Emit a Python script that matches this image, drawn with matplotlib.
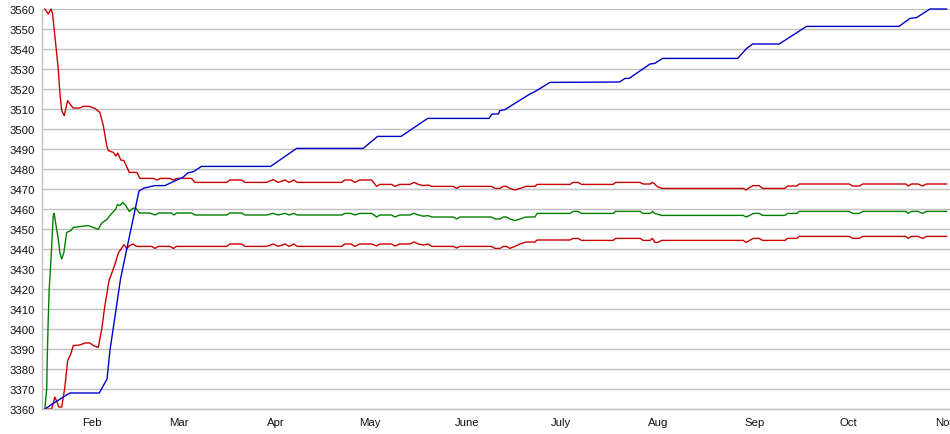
import matplotlib.pyplot as plt

plt.rcParams['font.family'] = ['Liberation Sans', 'DejaVu Sans']

# x values are day of year (Jan 1 = 1)
MONTH_DAYS = [32, 60, 91, 121, 152, 182, 213, 244, 274, 305]
MONTH_LABELS = ["Feb", "Mar", "Apr", "May", "June", "July", "Aug", "Sep", "Oct", "Nov"]

blue_days = [17.0, 20.2, 25.0, 34.4, 36.9, 37.8, 41.2, 47.1, 48.8, 52.2, 55.4, 58.1, 61.3,
             62.7, 64.5, 67.1, 89.2, 97.5, 118.8, 123.4, 130.9, 139.4, 159.0, 160.0, 162.0,
             162.5, 164.1, 172.1, 173.7, 178.5, 200.7, 202.5, 203.8, 210.5, 212.0, 214.5,
             238.5, 241.4, 243.3, 251.8, 260.5, 290.1, 293.6, 295.7, 300.0, 305.3]
blue_vals = [3360, 3363.3, 3368, 3368, 3375, 3389, 3425, 3469, 3470.5, 3471.7, 3471.7, 3473.7,
             3476, 3478, 3478.7, 3481.3, 3481.3, 3490.3, 3490.3, 3496.3, 3496.3, 3505.3, 3505.3,
             3507.5, 3507.5, 3509.2, 3509.7, 3517.5, 3518.7, 3523.3, 3523.5, 3525.3, 3525.3,
             3532.5, 3532.8, 3535.3, 3535.3, 3540.3, 3542.5, 3542.5, 3551.3, 3551.3, 3555.3,
             3555.7, 3560, 3560]

upper_days = [17.0, 18.1, 19.0, 19.5, 20.2, 21.3, 21.8, 22.4, 23.2, 24.3, 25.4, 26.1, 28.2,
              29.3, 31.2, 33.0, 34.6, 35.7, 36.8, 37.3, 38.9, 39.7, 40.3, 41.3, 42.3, 44.0,
              46.4, 47.4, 51.7, 52.8, 54.0, 57.0, 58.1, 59.1, 63.9, 65.0, 75.1, 76.2, 79.9,
              81.0, 87.9, 90.0, 91.6, 93.8, 95.1, 96.6, 97.7, 111.9, 112.9, 114.9, 116.1,
              117.7, 121.5, 123.1, 124.1, 127.9, 128.9, 130.5, 133.7, 135.1, 136.4, 138.0,
              139.6, 140.7, 147.6, 148.7, 149.7, 159.8, 160.9, 162.5, 163.6, 164.6, 165.7,
              167.3, 168.9, 170.8, 173.7, 174.4, 184.9, 185.9, 187.5, 188.6, 198.7, 199.5,
              207.3, 208.3, 210.5, 211.3, 212.0, 212.8, 214.2, 240.3, 241.2, 242.4, 243.5,
              245.4, 246.5, 253.6, 254.5, 257.4, 258.2, 274.2, 275.3, 277.4, 278.5, 292.3,
              293.0, 294.1, 296.2, 297.6, 298.9, 305.3]
upper_vals = [3560, 3557.5, 3560, 3557.5, 3546.7, 3530, 3518.3, 3509.2, 3506.7, 3514.2, 3511.7,
              3510.5, 3510.5, 3511.3, 3511.3, 3510.3, 3508.3, 3501.7, 3491.7, 3489.2, 3488.3,
              3486.5, 3488, 3484.5, 3484.2, 3478.3, 3478.3, 3475.3, 3475.3, 3474.5, 3475.3,
              3475.3, 3474.5, 3475.3, 3475.3, 3473.3, 3473.3, 3474.5, 3474.5, 3473.3, 3473.3,
              3474.7, 3473.3, 3474.5, 3473.3, 3474.5, 3473.3, 3473.3, 3474.5, 3474.5, 3473.3,
              3474.5, 3474.5, 3471.3, 3472.3, 3472.3, 3471.3, 3472.3, 3472.3, 3473.3, 3472.3,
              3471.7, 3472, 3471.3, 3471.3, 3470.3, 3471.3, 3471.3, 3470.3, 3470.3, 3471.3,
              3471.3, 3470.3, 3469.5, 3470.3, 3471.3, 3471.3, 3472.3, 3472.3, 3473.3, 3473.3,
              3472.3, 3472.3, 3473.3, 3473.3, 3472.5, 3472.5, 3473.3, 3472.5, 3471.2, 3470.3,
              3470.3, 3469.5, 3470.8, 3471.7, 3471.7, 3470.3, 3470.3, 3471.5, 3471.5, 3472.5,
              3472.5, 3471.5, 3471.5, 3472.5, 3472.5, 3471.5, 3472.5, 3472.5, 3471.5, 3472.5,
              3472.5]

green_days = [17.0, 17.6, 17.8, 18.1, 18.4, 18.8, 19.2, 19.7, 20.0, 20.5, 21.3, 21.8, 22.4,
              23.1, 24.0, 25.3, 26.1, 28.2, 30.9, 33.0, 34.1, 35.2, 36.8, 37.8, 38.7, 39.7,
              40.2, 41.0, 41.9, 42.9, 44.0, 45.1, 46.1, 47.2, 50.6, 52.2, 53.5, 57.5, 58.3,
              59.1, 63.9, 65.0, 75.1, 76.2, 79.9, 81.0, 87.9, 90.0, 91.6, 93.8, 95.1, 96.6,
              97.7, 111.9, 112.9, 114.9, 116.1, 117.7, 121.5, 123.1, 124.1, 127.9, 128.9,
              130.5, 133.7, 135.1, 136.4, 138.0, 139.6, 140.7, 147.6, 148.7, 149.7, 159.8,
              160.9, 162.5, 163.6, 164.6, 165.7, 167.3, 168.9, 170.8, 173.7, 174.4, 184.9,
              185.9, 187.5, 188.6, 198.7, 199.5, 207.3, 208.3, 210.5, 211.3, 212.0, 214.2,
              240.3, 241.2, 242.4, 243.5, 245.4, 246.5, 253.6, 254.5, 257.4, 258.2, 274.2,
              275.3, 277.4, 278.5, 292.3, 293.0, 294.1, 296.2, 297.6, 298.9, 305.3]
green_vals = [3360, 3370, 3387, 3405, 3420, 3430, 3441.7, 3456.7, 3457.8, 3452.5, 3445, 3438.3,
              3435, 3438.3, 3448.3, 3449.2, 3450.8, 3451.2, 3451.7, 3450.5, 3449.8, 3453,
              3454.7, 3456.7, 3458.3, 3460, 3462.2, 3461.7, 3463.3, 3461.7, 3458.8, 3460.3,
              3460.5, 3458, 3458, 3457, 3458, 3458, 3457, 3458, 3458, 3457, 3457, 3458, 3458,
              3457, 3457, 3457.8, 3457, 3457.8, 3457, 3457.8, 3457, 3457, 3457.8, 3457.8, 3457,
              3457.8, 3457.8, 3456, 3457, 3457, 3456, 3457, 3457, 3457.8, 3457, 3456.4, 3456.7,
              3456, 3456, 3455, 3456, 3456, 3455, 3455, 3456, 3456, 3455, 3454.2, 3455, 3456,
              3456, 3457.8, 3457.8, 3458.8, 3458.8, 3457.8, 3457.8, 3458.8, 3458.8, 3457.8,
              3457.8, 3458.8, 3457.8, 3456.8, 3456.8, 3456, 3456.8, 3457.8, 3457.8, 3456.8,
              3456.8, 3457.8, 3457.8, 3458.8, 3458.8, 3457.8, 3457.8, 3458.8, 3458.8, 3457.8,
              3458.8, 3458.8, 3457.8, 3458.8, 3458.8]

lower_days = [17.0, 19.2, 20.2, 21.0, 21.5, 22.4, 23.4, 24.3, 25.3, 26.1, 28.2, 29.8, 31.4,
              32.5, 34.1, 35.2, 36.2, 37.5, 39.4, 40.5, 41.6, 42.3, 43.2, 44.2, 45.1, 46.4,
              51.2, 52.2, 53.3, 57.0, 58.1, 59.1, 75.1, 76.2, 79.9, 81.0, 87.9, 90.0, 91.6,
              93.8, 95.1, 96.6, 97.7, 111.9, 112.9, 114.9, 116.1, 117.7, 121.5, 123.1, 124.1,
              127.9, 128.9, 130.5, 133.7, 135.1, 136.4, 138.0, 139.6, 140.7, 147.6, 148.7,
              149.7, 159.8, 160.9, 162.5, 163.6, 164.6, 165.7, 167.3, 168.9, 170.8, 173.7,
              174.4, 184.9, 185.9, 187.5, 188.6, 198.7, 199.5, 207.3, 208.3, 210.5, 211.3,
              212.0, 213.0, 214.2, 240.3, 241.2, 243.5, 245.4, 246.5, 253.6, 254.5, 257.4,
              258.2, 274.2, 275.3, 277.4, 278.5, 292.3, 293.0, 294.1, 296.2, 297.6, 298.9,
              305.3]
lower_vals = [3360, 3360, 3366, 3363, 3361, 3361, 3370.8, 3384.2, 3387.5, 3391.7, 3392, 3393,
              3393, 3391.7, 3390.8, 3400, 3411.7, 3424, 3432.2, 3438, 3440.5, 3442.2, 3440.2,
              3441.8, 3442.5, 3441.3, 3441.3, 3440.3, 3441.3, 3441.3, 3440.3, 3441.3, 3441.3,
              3442.5, 3442.5, 3441.3, 3441.3, 3442.5, 3441.3, 3442.5, 3441.3, 3442.5, 3441.3,
              3441.3, 3442.5, 3442.5, 3441.3, 3442.5, 3442.5, 3441.5, 3442.5, 3442.5, 3441.5,
              3442.5, 3442.5, 3443.5, 3442.5, 3442, 3442.5, 3441.3, 3441.3, 3440.5, 3441.3,
              3441.3, 3440.3, 3440.3, 3441.3, 3441.3, 3440.3, 3441.3, 3442.5, 3443.5, 3443.5,
              3444.5, 3444.5, 3445.3, 3445.3, 3444.3, 3444.3, 3445.3, 3445.3, 3444.3, 3444.3,
              3445.3, 3443.3, 3443.3, 3444.3, 3444.3, 3443.3, 3445.3, 3445.3, 3444.3, 3444.3,
              3445.3, 3445.3, 3446.3, 3446.3, 3445.3, 3445.3, 3446.3, 3446.3, 3445.3, 3446.3,
              3446.3, 3445.3, 3446.3, 3446.3]

RED = '#cc0000'
GREEN = '#008000'
BLUE = '#0000cc'
GRID = '#c0c0c0'

fig = plt.figure(figsize=(9.5, 4.35), dpi=100)
ax = fig.add_axes([42 / 950, 25 / 435, 908 / 950, 400 / 435])

ax.plot(upper_days, upper_vals, color=RED, lw=1, clip_on=False)
ax.plot(green_days, green_vals, color=GREEN, lw=1, clip_on=False)
ax.plot(lower_days, lower_vals, color=RED, lw=1, clip_on=False)
ax.plot(blue_days, blue_vals, color=BLUE, lw=1, clip_on=False)

ax.set_xlim(16.1, 306.4)
ax.set_ylim(3360, 3560)
ax.set_yticks(range(3360, 3561, 10))
ax.set_xticks(MONTH_DAYS)
ax.set_xticklabels(MONTH_LABELS)

ax.grid(axis='y', color=GRID, lw=1)
ax.set_axisbelow(True)
ax.tick_params(length=0, labelsize=8.2, colors='#111111')
ax.tick_params(axis='y', pad=5)
ax.tick_params(axis='x', pad=6)
for side in ['top', 'right']:
    ax.spines[side].set_visible(False)
for side in ['left', 'bottom']:
    ax.spines[side].set_color(GRID)
    ax.spines[side].set_linewidth(1)

fig.savefig('out.png', dpi=100)
